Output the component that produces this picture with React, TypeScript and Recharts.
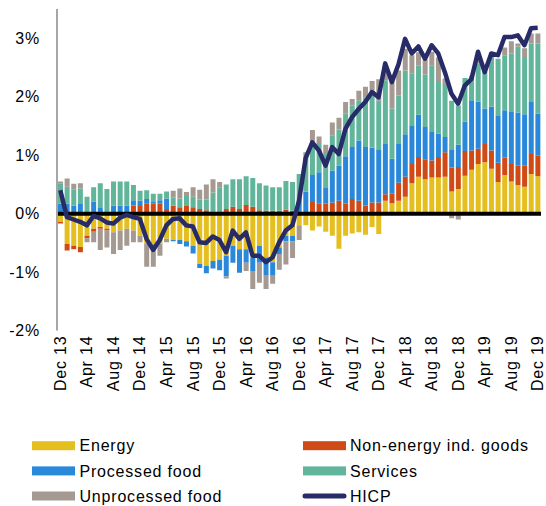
import React from 'react';
import { ComposedChart, Bar, Line, XAxis, YAxis, ReferenceLine, Legend } from 'recharts';

const categories = [
  'Dec 13',
  'Jan 14', 'Feb 14', 'Mar 14', 'Apr 14', 'May 14', 'Jun 14', 'Jul 14', 'Aug 14', 'Sep 14', 'Oct 14', 'Nov 14', 'Dec 14',
  'Jan 15', 'Feb 15', 'Mar 15', 'Apr 15', 'May 15', 'Jun 15', 'Jul 15', 'Aug 15', 'Sep 15', 'Oct 15', 'Nov 15', 'Dec 15',
  'Jan 16', 'Feb 16', 'Mar 16', 'Apr 16', 'May 16', 'Jun 16', 'Jul 16', 'Aug 16', 'Sep 16', 'Oct 16', 'Nov 16', 'Dec 16',
  'Jan 17', 'Feb 17', 'Mar 17', 'Apr 17', 'May 17', 'Jun 17', 'Jul 17', 'Aug 17', 'Sep 17', 'Oct 17', 'Nov 17', 'Dec 17',
  'Jan 18', 'Feb 18', 'Mar 18', 'Apr 18', 'May 18', 'Jun 18', 'Jul 18', 'Aug 18', 'Sep 18', 'Oct 18', 'Nov 18', 'Dec 18',
  'Jan 19', 'Feb 19', 'Mar 19', 'Apr 19', 'May 19', 'Jun 19', 'Jul 19', 'Aug 19', 'Sep 19', 'Oct 19', 'Nov 19', 'Dec 19',
];

const energy = [
  -0.14, -0.52, -0.55, -0.57, -0.38, -0.26, -0.23, -0.26, -0.32, -0.29, -0.26, -0.29,
  -0.38, -0.52, -0.52, -0.52, -0.43, -0.45, -0.45, -0.47, -0.55, -0.86, -0.89, -0.81,
  -0.79, -0.72, -0.55, -0.61, -0.61, -0.75, -0.55, -0.75, -0.83, -0.58, -0.38, -0.38,
  -0.20, -0.20, -0.29, -0.22, -0.31, -0.38, -0.60, -0.38, -0.34, -0.32, -0.36, -0.23,
  -0.35, 0.22, 0.18, 0.22, 0.29, 0.52, 0.63, 0.59, 0.62, 0.62, 0.63, 0.38,
  0.42, 0.65, 0.75, 0.85, 0.88, 0.77, 0.54, 0.66, 0.55, 0.49, 0.46, 0.68, 0.64,
];

const nonEnergyGoods = [
  -0.03, -0.11, -0.06, -0.09, -0.04, -0.05, -0.03, -0.03, 0, 0, 0, 0.14,
  0.13, 0.18, 0.17, 0.17, 0.08, 0.14, 0.11, 0.13, 0.11, 0.08, 0.06, 0.02,
  0.02, 0.08, 0.12, 0.08, 0.15, 0.12, 0.06, 0.05, 0.05, 0.05, 0.07, 0.05,
  0.03, 0.03, 0.2, 0.17, 0.17, 0.19, 0.22, 0.17, 0.25, 0.22, 0.14, 0.19,
  0.19, 0.11, 0.16, 0.31, 0.34, 0.33, 0.34, 0.34, 0.29, 0.35, 0.42, 0.41,
  0.38, 0.42, 0.33, 0.26, 0.31, 0.31, 0.33, 0.3, 0.3, 0.33, 0.36, 0.34, 0.35,
];

const processedFood = [
  0.17, 0.17, 0.14, 0.18, 0, 0.21, 0.11, 0, 0.14, 0.14, 0.14, 0.09,
  0.09, 0.07, 0.03, 0.06, 0.18, -0.02, -0.07, -0.09, -0.13, -0.07, -0.13, -0.13,
  -0.18, -0.35, -0.29, -0.4, -0.23, -0.23, -0.29, -0.31, -0.23, -0.11, -0.09, -0.09,
  0.2, 0.35, 0.46, 0.54, 0.28, 0.55, 0.6, 0.81, 0.89, 1.03, 1.0, 0.94,
  0.91, 0.86, 0.6, 0.66, 0.73, 0.66, 0.72, 0.55, 0.5, 0.4, 0.26, 0.31,
  0.38, 0.5, 0.86, 0.81, 0.61, 0.75, 0.8, 0.81, 0.89, 0.91, 0.88, 0.89, 0.72,
];

const services = [
  0.34, 0.29, 0.27, 0.25, 0.29, 0.24, 0.41, 0.42, 0.41, 0.41, 0.41, 0.26,
  0.17, 0.15, 0.14, 0.11, 0.12, 0.13, 0.15, 0.17, 0.18, 0.16, 0.18, 0.34,
  0.43, 0.42, 0.47, 0.51, 0.49, 0.49, 0.46, 0.43, 0.4, 0.4, 0.49, 0.49,
  0.45, 0.6, 0.57, 0.5, 0.57, 0.6, 0.62, 0.73, 0.71, 0.69, 0.85, 0.97,
  0.83, 1.09, 0.86, 0.83, 1.09, 0.89, 0.84, 0.9, 1.13, 0.9, 0.89, 0.83,
  0.67, 0.75, 0.42, 0.65, 0.63, 0.88, 0.98, 0.93, 1.0, 1.13, 0.98, 1.0, 1.2,
];

const unprocessedFood = [
  0.04, 0.14, 0.1, 0.09, -0.07, -0.18, -0.36, -0.29, -0.37, -0.33, -0.29, -0.2,
  -0.11, -0.39, -0.39, -0.2, -0.06, 0.12, 0.17, 0.07, 0.16, 0.17, 0.26, 0.23,
  0.09, -0.04, 0, 0, -0.14, -0.31, -0.34, -0.23, -0.14, -0.27, -0.4, -0.29,
  -0.25, 0.07, 0.2, 0.11, 0.16, 0.22, 0.2, 0.2, 0.11, 0.16, 0.18, 0.17,
  0.37, 0.25, 0.46, 0.43, 0.37, 0.31, 0.23, 0.26, 0.23, 0.4, 0.11, -0.08,
  -0.1, 0, 0, 0.05, 0, 0.05, 0, 0.14, 0.21, 0.05, 0.15, 0.17, 0.17,
];

const hicp = [
  0.4, -0.06, -0.1, -0.14, -0.2, -0.04, -0.08, -0.15, -0.17, -0.07, -0.02, -0.06,
  -0.09, -0.43, -0.62, -0.45, -0.2, -0.09, -0.08, -0.2, -0.22, -0.49, -0.5, -0.39,
  -0.45, -0.66, -0.29, -0.43, -0.32, -0.72, -0.72, -0.83, -0.75, -0.49, -0.29, -0.2,
  0.22, 0.95, 1.22, 1.08, 0.82, 1.14, 1.02, 1.45, 1.65, 1.79, 1.91, 2.08,
  1.99, 2.57, 2.25, 2.55, 2.99, 2.74, 2.86, 2.65, 2.88, 2.74, 2.42, 2.05,
  1.88, 2.19, 2.3, 2.77, 2.42, 2.74, 2.71, 3.02, 3.02, 3.05, 2.88, 3.17, 3.18,
];

const yTicks = [-2, -1, 0, 1, 2, 3];

const seriesNames = ['Energy', 'Non-energy ind. goods', 'Processed food', 'Services', 'Unprocessed food', 'HICP'];
const seriesColors = ['#E5BF1F', '#D04A15', '#2A88DB', '#61B59A', '#A59A92', '#272C68'];

const data = categories.map((month, i) => ({
  month,
  energy: energy[i],
  neig: nonEnergyGoods[i],
  processed: processedFood[i],
  services: services[i],
  unprocessed: unprocessedFood[i],
  hicp: hicp[i],
}));

const FONT = '"Liberation Sans", Arial, Helvetica, sans-serif';

const XTick = (props: any) => {
  const { x, y, payload } = props;
  return (
    <text
      x={x}
      y={y}
      transform={`rotate(-90, ${x}, ${y})`}
      textAnchor="end"
      dy="0.35em"
      fontSize={16}
      fontFamily={FONT}
      letterSpacing={0.8}
      fill="#000"
    >
      {payload.value}
    </text>
  );
};

const LegendContent = () => {
  const rows = [
    [0, 1],
    [2, 3],
    [4, 5],
  ];
  const rowY = [13.7, 38.9, 64];
  const cols = [
    { sx: 32, tx: 79.5 },
    { sx: 303, tx: 350 },
  ];
  return (
    <svg width={546} height={74} style={{ display: 'block' }}>
      {rows.map((row, r) =>
        row.map((idx, c) => {
          const col = cols[c];
          const cy = rowY[r];
          const isLine = seriesNames[idx] === 'HICP';
          return (
            <g key={idx}>
              {isLine ? (
                <line
                  x1={col.sx + 2}
                  x2={col.sx + 41}
                  y1={cy}
                  y2={cy}
                  stroke={seriesColors[idx]}
                  strokeWidth={5}
                  strokeLinecap="round"
                />
              ) : (
                <rect x={col.sx} y={cy - 4.5} width={43} height={9} fill={seriesColors[idx]} />
              )}
              <text
                x={col.tx}
                y={cy}
                dy="0.35em"
                fontSize={16}
                fontFamily={FONT}
                letterSpacing={0.8}
                fill="#000"
              >
                {seriesNames[idx]}
              </text>
            </g>
          );
        })
      )}
    </svg>
  );
};

export default function App() {
  return (
    <div style={{ position: 'absolute', left: 0, top: 0, width: 546, height: 506, background: '#fff' }}>
      <ComposedChart
        width={546}
        height={506}
        data={data}
        stackOffset="sign"
        margin={{ top: 9, right: 5, bottom: 0, left: 0 }}
        barSize={5}
      >
        <XAxis
          dataKey="month"
          interval={3}
          axisLine={false}
          tickLine={false}
          tickSize={0}
          tickMargin={5}
          height={175.4}
          tick={<XTick />}
        />
        <YAxis
          domain={[-2, 3.5]}
          ticks={yTicks}
          width={57}
          axisLine={{ stroke: '#A6A6A6', strokeWidth: 2 }}
          tickLine={false}
          tickSize={0}
          tickMargin={17}
          tickFormatter={(v: number) => `${v}%`}
          tick={{ fontSize: 16, fill: '#000', fontFamily: FONT, letterSpacing: 0.8 }}
          allowDataOverflow
        />
        <Bar dataKey="energy" stackId="a" fill={seriesColors[0]} isAnimationActive={false} />
        <Bar dataKey="neig" stackId="a" fill={seriesColors[1]} isAnimationActive={false} />
        <Bar dataKey="processed" stackId="a" fill={seriesColors[2]} isAnimationActive={false} />
        <Bar dataKey="services" stackId="a" fill={seriesColors[3]} isAnimationActive={false} />
        <Bar dataKey="unprocessed" stackId="a" fill={seriesColors[4]} isAnimationActive={false} />
        <ReferenceLine y={0} stroke="#000" strokeWidth={4} />
        <Line
          dataKey="hicp"
          type="linear"
          stroke={seriesColors[5]}
          strokeWidth={4.5}
          strokeLinejoin="round"
          dot={false}
          isAnimationActive={false}
        />
        <Legend
          layout="vertical"
          align="center"
          verticalAlign="middle"
          content={<LegendContent />}
          wrapperStyle={{ position: 'absolute', top: 432, left: 0, width: 546, height: 74 }}
        />
      </ComposedChart>
    </div>
  );
}
